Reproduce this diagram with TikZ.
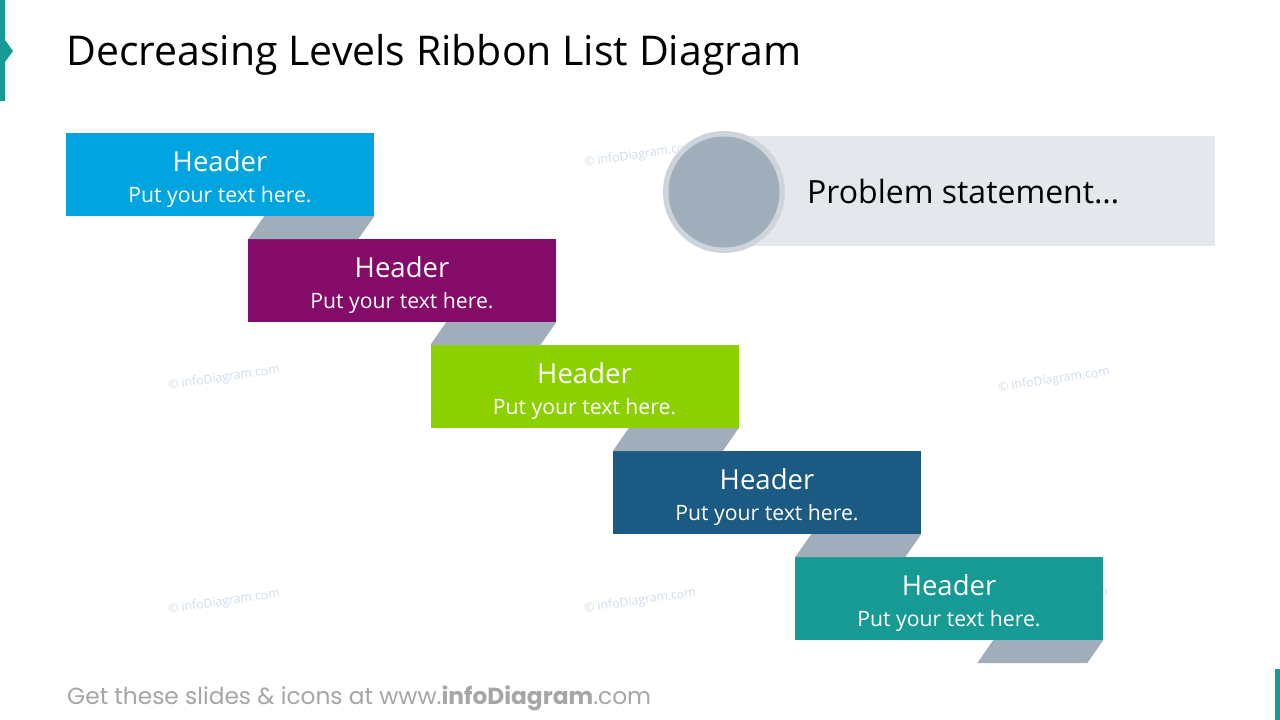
\documentclass[tikz,border=0pt]{standalone}
\usepackage{fontspec}
\setmainfont{Open Sans}
\newfontfamily\footfont{Poppins}
\usepackage{xcolor}
\usetikzlibrary{positioning}
\definecolor{lvlone}{HTML}{00A4DE}
\definecolor{lvltwo}{HTML}{850B69}
\definecolor{lvlthree}{HTML}{8DD000}
\definecolor{lvlfour}{HTML}{1B5A82}
\definecolor{lvlfive}{HTML}{179A93}
\definecolor{fold}{HTML}{A0ADBA}
\definecolor{banner}{HTML}{E4E8ED}
\definecolor{ring}{HTML}{CDD4DB}
\definecolor{accent}{HTML}{179A93}
\definecolor{footgray}{HTML}{A6A6A6}
\definecolor{wmgray}{HTML}{D0DCEA}

\newcommand{\lvltext}{\fontsize{27.5}{32}\selectfont\rule{0pt}{30pt}Header\\[14pt]\fontsize{21.2}{32}\selectfont Put your text here.}

\begin{document}
\begin{tikzpicture}[x=1pt, y=-1pt,
  level/.style={minimum width=308pt, minimum height=83pt, inner sep=0pt, align=center, text=white},
  foldband/.style={fill=fold},
  wmark/.style={text=wmgray, rotate=8, font=\fontsize{12.3}{13}\selectfont}
]
  \useasboundingbox[fill=white] (0,0) rectangle (1280,720);

  \fill[accent] (0,0) rectangle (5,101);
  \fill[accent] (5,40) -- (13,51) -- (5,62) -- cycle;
  \fill[accent] (1275,669) rectangle (1280,720);

  \node[anchor=west, inner sep=0pt] (title) at (66,55) {\fontsize{41}{44}\selectfont Decreasing Levels Ribbon List Diagram};

  \node[wmark] (wm1) at (640,155) {© infoDiagram.com};
  \node[wmark] (wm2) at (224,378) {© infoDiagram.com};
  \node[wmark] (wm3) at (1054,380) {© infoDiagram.com};
  \node[wmark] (wm4) at (224,602) {© infoDiagram.com};
  \node[wmark] (wm5) at (640,601) {© infoDiagram.com};
  \node[wmark] (wm6) at (1052,600) {© infoDiagram.com};

  \node[fill=banner, minimum width=470pt, minimum height=110pt, inner sep=0pt, anchor=east] (banner) at (1215,191) {};
  \node[circle, fill=ring, minimum size=122pt, inner sep=0pt] (ring) at (724,192) {};
  \node[circle, fill=fold, minimum size=111pt, inner sep=0pt] (disc) at (ring) {};
  \node[anchor=west, inner sep=0pt] (problem) at (807,192) {\fontsize{32}{36}\selectfont Problem statement…};

  \node[level, fill=lvlone] (lvl1) at (220,174.5) {\lvltext};
  \node[level, fill=lvltwo] (lvl2) at (402,280.5) {\lvltext};
  \node[level, fill=lvlthree] (lvl3) at (584.5,386.5) {\lvltext};
  \node[level, fill=lvlfour] (lvl4) at (767,492.5) {\lvltext};
  \node[level, fill=lvlfive] (lvl5) at (949,598.5) {\lvltext};

  \fill[foldband] (lvl1.south east) ++(-110,0) -- (lvl1.south east) -- ++(-16,23) -- ++(-110,0) -- cycle;
  \fill[foldband] (lvl2.south east) ++(-110,0) -- (lvl2.south east) -- ++(-16,23) -- ++(-110,0) -- cycle;
  \fill[foldband] (lvl3.south east) ++(-110,0) -- (lvl3.south east) -- ++(-16,23) -- ++(-110,0) -- cycle;
  \fill[foldband] (lvl4.south east) ++(-110,0) -- (lvl4.south east) -- ++(-16,23) -- ++(-110,0) -- cycle;
  \fill[foldband] (lvl5.south east) ++(-110,0) -- (lvl5.south east) -- ++(-16,23) -- ++(-110,0) -- cycle;

  \node[anchor=west, inner sep=0pt, text=footgray] (footer) at (67,698) {\footfont\fontsize{23.3}{26}\selectfont Get these slides \& icons at www.\textbf{infoDiagram}.com};
\end{tikzpicture}
\end{document}
